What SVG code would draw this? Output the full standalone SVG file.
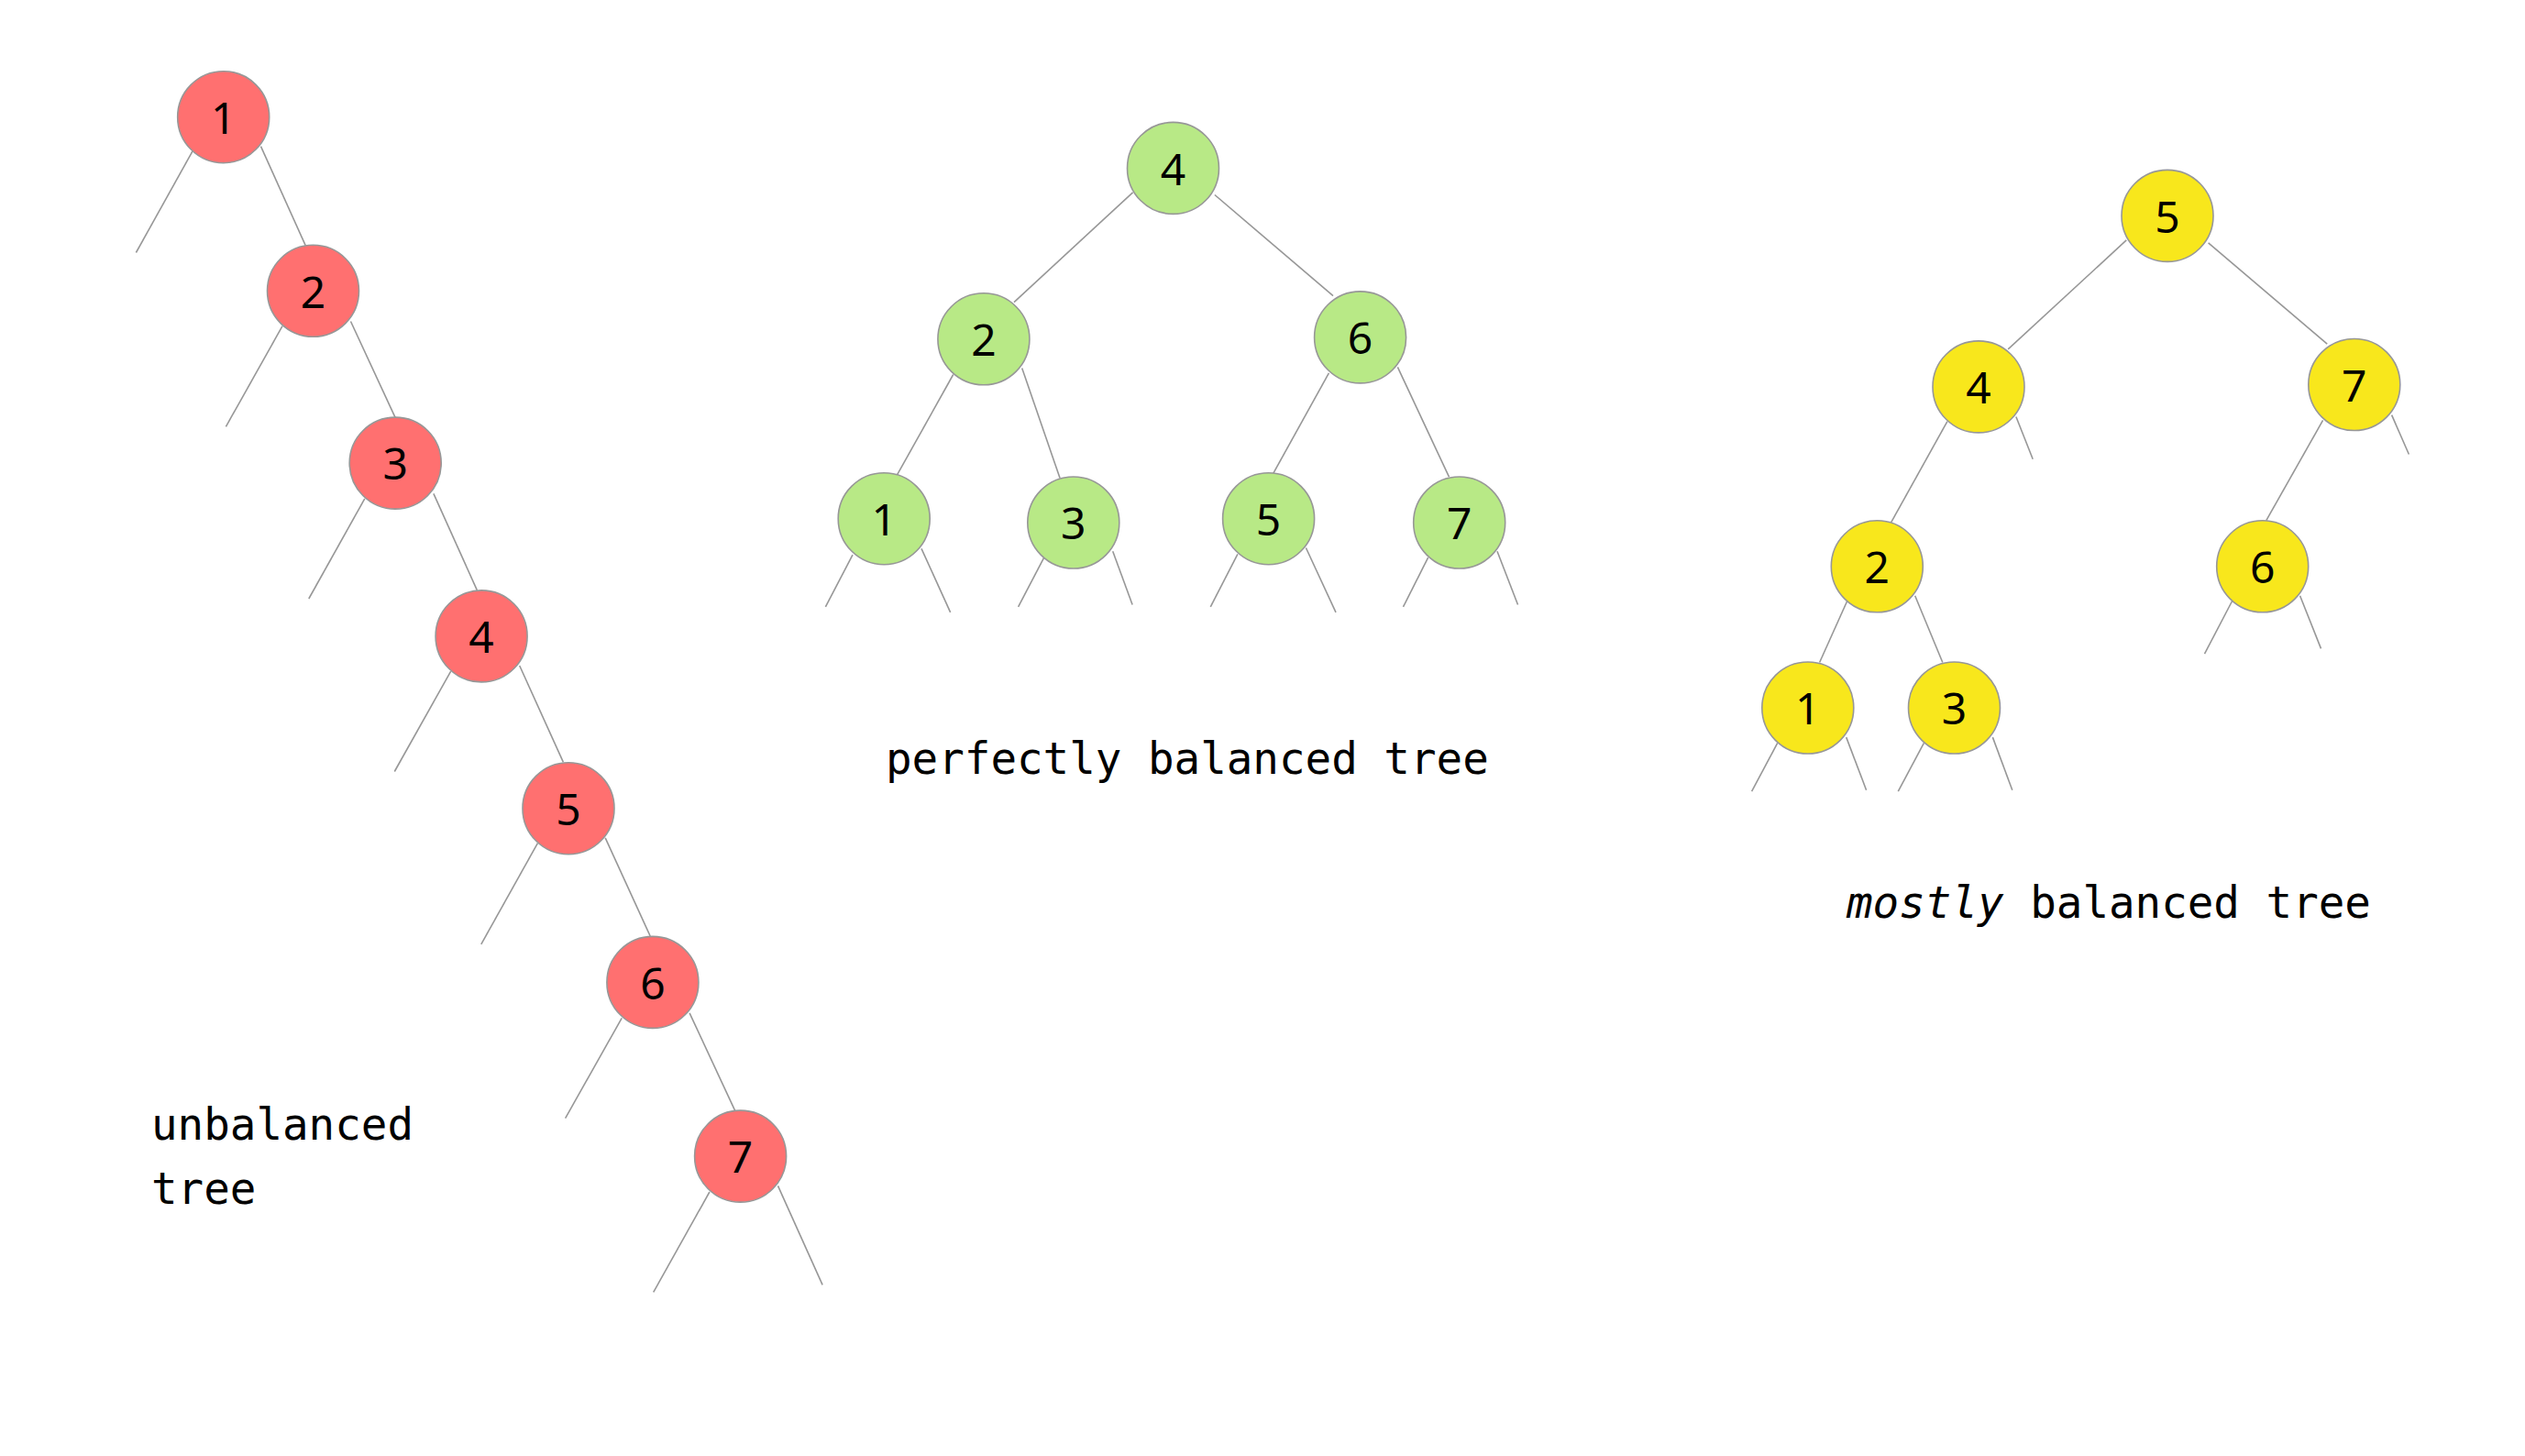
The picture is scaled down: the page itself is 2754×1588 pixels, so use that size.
<svg xmlns="http://www.w3.org/2000/svg" width="2754" height="1588" viewBox="0 0 2754 1588">
<style>
.bg{fill:#ffffff}
.edge{stroke:#979797;stroke-width:1.6;fill:none}
.node circle{stroke:#979797;stroke-width:1.6}
.red circle{fill:#FF7070}
.green circle{fill:#B8E986}
.yellow circle{fill:#F8E71C}
.node text{font-family:"Noto Sans","Open Sans","DejaVu Sans",sans-serif;font-size:48px;fill:#000;text-anchor:middle}
.label{font-family:"DejaVu Sans Mono","Liberation Mono",monospace;font-size:47.5px;fill:#000}
</style>
<rect class="bg" x="0" y="0" width="2754" height="1588"/>
<g id="connectors">
  <!-- unbalanced tree -->
  <line class="edge" x1="210" y1="164.8" x2="148.4" y2="275.5"/>
  <line class="edge" x1="284.5" y1="159.7" x2="333.3" y2="267.9"/>
  <line class="edge" x1="308" y1="355.6" x2="246.4" y2="465.3"/>
  <line class="edge" x1="382.5" y1="350.5" x2="431.2" y2="455.6"/>
  <line class="edge" x1="397.8" y1="543.9" x2="336.8" y2="653"/>
  <line class="edge" x1="472.9" y1="538.3" x2="520.4" y2="643.9"/>
  <line class="edge" x1="491.7" y1="732.1" x2="430.3" y2="841.5"/>
  <line class="edge" x1="566.7" y1="726" x2="614.3" y2="831.2"/>
  <line class="edge" x1="586.4" y1="919.6" x2="524.8" y2="1029.9"/>
  <line class="edge" x1="660.2" y1="913.8" x2="709.2" y2="1021"/>
  <line class="edge" x1="678.2" y1="1110.3" x2="616.6" y2="1219.6"/>
  <line class="edge" x1="752.1" y1="1104.9" x2="801.8" y2="1211.6"/>
  <line class="edge" x1="773.9" y1="1300" x2="712.7" y2="1409.4"/>
  <line class="edge" x1="848.5" y1="1293.3" x2="897.1" y2="1401.3"/>
  <!-- perfectly balanced tree -->
  <line class="edge" x1="1235.6" y1="209.8" x2="1106" y2="329.6"/>
  <line class="edge" x1="1324.9" y1="212.5" x2="1454" y2="322.7"/>
  <line class="edge" x1="1039.7" y1="408.5" x2="978.5" y2="517.9"/>
  <line class="edge" x1="1114.7" y1="401.6" x2="1156" y2="521.3"/>
  <line class="edge" x1="1449.4" y1="406.9" x2="1388.7" y2="516.4"/>
  <line class="edge" x1="1524.4" y1="400.4" x2="1580.5" y2="520.2"/>
  <line class="edge" x1="930" y1="605.2" x2="900.4" y2="661.8"/>
  <line class="edge" x1="1005" y1="598.3" x2="1036.6" y2="667.9"/>
  <line class="edge" x1="1138.7" y1="608.2" x2="1110.6" y2="661.8"/>
  <line class="edge" x1="1213.7" y1="601.3" x2="1235.1" y2="659.5"/>
  <line class="edge" x1="1349.9" y1="604.4" x2="1320.3" y2="661.8"/>
  <line class="edge" x1="1424.4" y1="597.5" x2="1457" y2="667.9"/>
  <line class="edge" x1="1557.6" y1="608.2" x2="1530.5" y2="661.8"/>
  <line class="edge" x1="1633" y1="601.3" x2="1655.5" y2="659.5"/>
  <!-- mostly balanced tree -->
  <line class="edge" x1="2319.3" y1="261.9" x2="2190.2" y2="380.9"/>
  <line class="edge" x1="2408.6" y1="264.8" x2="2538.2" y2="375.2"/>
  <line class="edge" x1="2123.9" y1="459.7" x2="2062.7" y2="569.6"/>
  <line class="edge" x1="2198.9" y1="454.5" x2="2217.2" y2="500.7"/>
  <line class="edge" x1="2533.6" y1="458.3" x2="2471.8" y2="567.7"/>
  <line class="edge" x1="2608.6" y1="452.6" x2="2627.4" y2="495.5"/>
  <line class="edge" x1="2014.7" y1="655.5" x2="1984.6" y2="722.5"/>
  <line class="edge" x1="2088.7" y1="649.8" x2="2118.8" y2="722.5"/>
  <line class="edge" x1="2434.6" y1="655.5" x2="2404.5" y2="713.1"/>
  <line class="edge" x1="2508.6" y1="649.8" x2="2531.5" y2="707.4"/>
  <line class="edge" x1="1938.7" y1="810.3" x2="1910.6" y2="863.1"/>
  <line class="edge" x1="2013.7" y1="804.1" x2="2035.6" y2="861.7"/>
  <line class="edge" x1="2098.4" y1="810.3" x2="2070.3" y2="863.1"/>
  <line class="edge" x1="2173.4" y1="804.1" x2="2194.8" y2="861.7"/>
</g>
<!-- unbalanced tree nodes -->
<g id="u1" class="node red"><circle cx="243.7" cy="127.7" r="50"/><text x="243.7" y="146">1</text></g>
<g id="u2" class="node red"><circle cx="341.5" cy="317.3" r="50"/><text x="341.5" y="335.6">2</text></g>
<g id="u3" class="node red"><circle cx="431.2" cy="505.1" r="50"/><text x="431.2" y="523.4">3</text></g>
<g id="u4" class="node red"><circle cx="525.1" cy="693.9" r="50"/><text x="525.1" y="712.2">4</text></g>
<g id="u5" class="node red"><circle cx="620" cy="881.7" r="50"/><text x="620" y="900">5</text></g>
<g id="u6" class="node red"><circle cx="711.9" cy="1071.4" r="50"/><text x="711.9" y="1089.7">6</text></g>
<g id="u7" class="node red"><circle cx="807.6" cy="1261.1" r="50"/><text x="807.6" y="1279.4">7</text></g>
<!-- perfectly balanced tree nodes -->
<g id="p4" class="node green"><circle cx="1279.5" cy="183.4" r="50"/><text x="1279.5" y="201.7">4</text></g>
<g id="p2" class="node green"><circle cx="1072.9" cy="369.8" r="50"/><text x="1072.9" y="388.1">2</text></g>
<g id="p6" class="node green"><circle cx="1483.6" cy="367.9" r="50"/><text x="1483.6" y="386.2">6</text></g>
<g id="p1" class="node green"><circle cx="964.2" cy="565.7" r="50"/><text x="964.2" y="584">1</text></g>
<g id="p3" class="node green"><circle cx="1170.8" cy="570" r="50"/><text x="1170.8" y="588.3">3</text></g>
<g id="p5" class="node green"><circle cx="1383.6" cy="565.7" r="50"/><text x="1383.6" y="584">5</text></g>
<g id="p7" class="node green"><circle cx="1591.7" cy="570" r="50"/><text x="1591.7" y="588.3">7</text></g>
<!-- mostly balanced tree nodes -->
<g id="m5" class="node yellow"><circle cx="2364" cy="235.4" r="50"/><text x="2364" y="253.7">5</text></g>
<g id="m4" class="node yellow"><circle cx="2158" cy="421.9" r="50"/><text x="2158" y="440.2">4</text></g>
<g id="m7" class="node yellow"><circle cx="2567.8" cy="419.5" r="50"/><text x="2567.8" y="437.8">7</text></g>
<g id="m2" class="node yellow"><circle cx="2047.3" cy="617.8" r="50"/><text x="2047.3" y="636.1">2</text></g>
<g id="m6" class="node yellow"><circle cx="2467.7" cy="617.8" r="50"/><text x="2467.7" y="636.1">6</text></g>
<g id="m1" class="node yellow"><circle cx="1971.8" cy="772" r="50"/><text x="1971.8" y="790.3">1</text></g>
<g id="m3" class="node yellow"><circle cx="2131.5" cy="772" r="50"/><text x="2131.5" y="790.3">3</text></g>
<!-- labels -->
<g id="label-unbalanced">
  <text class="label" x="165" y="1243">unbalanced</text>
  <text class="label" x="165" y="1313">tree</text>
</g>
<g id="label-perfect"><text class="label" x="966" y="844">perfectly balanced tree</text></g>
<g id="label-mostly"><text class="label" x="2014" y="1001"><tspan font-style="italic">mostly</tspan> balanced tree</text></g>
</svg>
